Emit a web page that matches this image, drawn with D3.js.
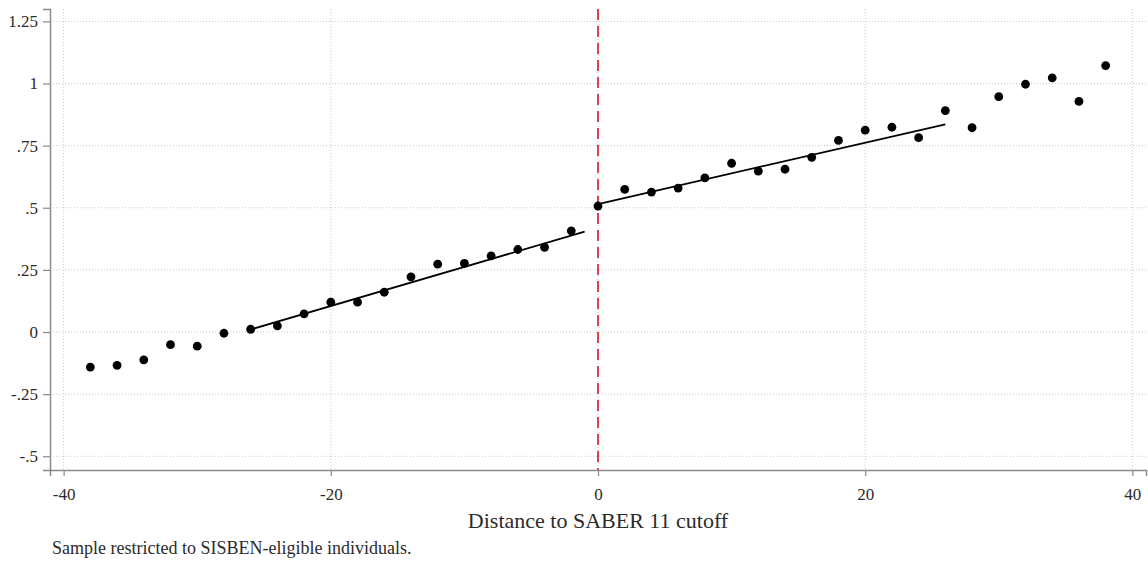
<!DOCTYPE html>
<html>
<head>
<meta charset="utf-8">
<script src="https://cdn.jsdelivr.net/npm/d3@7"></script>
<style>
  html, body { margin: 0; padding: 0; background: #fff; }
  svg { display: block; }
  text { font-family: "Liberation Serif", "DejaVu Serif", serif; fill: #2b2b2b; }
</style>
</head>
<body>
<svg id="chart" width="1148" height="564"></svg>
<script>
// Binned means of the outcome by distance to the cutoff (2-point bins)
const binCenters = [-38, -36, -34, -32, -30, -28, -26, -24, -22, -20, -18, -16, -14, -12, -10, -8, -6, -4, -2,
                    0, 2, 4, 6, 8, 10, 12, 14, 16, 18, 20, 22, 24, 26, 28, 30, 32, 34, 36, 38];
const binMeans = [-0.141, -0.134, -0.112, -0.051, -0.057, -0.005, 0.011, 0.025, 0.073, 0.120, 0.120, 0.160,
                  0.222, 0.273, 0.276, 0.306, 0.332, 0.341, 0.407,
                  0.507, 0.574, 0.563, 0.579, 0.620, 0.679, 0.647, 0.655, 0.703, 0.771, 0.812, 0.824, 0.782,
                  0.891, 0.822, 0.947, 0.997, 1.023, 0.928, 1.072];

// Linear fits on each side of the cutoff (endpoints)
const fitLeftX = [-26, -1];
const fitLeftY = [0.010, 0.404];
const fitRightX = [0, 26];
const fitRightY = [0.515, 0.836];

const cutoff = 0;
const xTicks = [-40, -20, 0, 20, 40];
const xTickLabels = ["-40", "-20", "0", "20", "40"];
const yTicks = [-0.5, -0.25, 0, 0.25, 0.5, 0.75, 1, 1.25];
const yTickLabels = ["-.5", "-.25", "0", ".25", ".5", ".75", "1", "1.25"];
const xTitle = "Distance to SABER 11 cutoff";
const note = "Sample restricted to SISBEN-eligible individuals.";

const svg = d3.select("#chart");
const plot = { left: 50, right: 1146, top: 9, bottom: 470 };

const x = d3.scaleLinear().domain([-41.02, 41.02]).range([plot.left, plot.right]);
const y = d3.scaleLinear().domain([-0.5553, 1.2998]).range([plot.bottom, plot.top]);

// grid
const grid = svg.append("g").attr("class", "grid");
grid.selectAll("line.h").data(yTicks).join("line")
  .attr("x1", plot.left).attr("x2", plot.right)
  .attr("y1", d => y(d)).attr("y2", d => y(d))
  .attr("stroke", "#c8c8c8").attr("stroke-width", 1).attr("stroke-dasharray", "1,2");
grid.selectAll("line.v").data(xTicks).join("line")
  .attr("y1", plot.top).attr("y2", plot.bottom)
  .attr("x1", d => x(d)).attr("x2", d => x(d))
  .attr("stroke", "#c8c8c8").attr("stroke-width", 1).attr("stroke-dasharray", "1,2");

// axes
const yAxis = svg.append("g")
  .attr("transform", `translate(${plot.left},0)`)
  .call(d3.axisLeft(y).tickValues(yTicks).tickFormat((d, i) => yTickLabels[i])
    .tickSizeOuter(0).tickSize(7).tickPadding(5));
const xAxis = svg.append("g")
  .attr("transform", `translate(0,${plot.bottom})`)
  .call(d3.axisBottom(x).tickValues(xTicks).tickFormat((d, i) => xTickLabels[i])
    .tickSizeOuter(0).tickSize(6).tickPadding(12));

[yAxis, xAxis].forEach(a => {
  a.attr("font-family", null).attr("font-size", null);
  a.select(".domain").attr("stroke", "#8a8a8a").attr("stroke-width", 1.5);
  a.selectAll(".tick line").attr("stroke", "#8a8a8a").attr("stroke-width", 1.2);
  a.selectAll(".tick text")
    .style("font-family", '"Liberation Serif", serif')
    .style("font-size", "17px")
    .attr("fill", "#2b2b2b");
});

// cutoff line
svg.append("line")
  .attr("x1", x(cutoff)).attr("x2", x(cutoff))
  .attr("y1", plot.top).attr("y2", plot.bottom)
  .attr("stroke", "#e0404f").attr("stroke-width", 2).attr("stroke-dasharray", "11,6");

// fitted lines
const line = d3.line().x(d => x(d[0])).y(d => y(d[1]));
[[fitLeftX, fitLeftY], [fitRightX, fitRightY]].forEach(([fx, fy]) => {
  svg.append("path")
    .datum(fx.map((v, i) => [v, fy[i]]))
    .attr("d", line)
    .attr("fill", "none").attr("stroke", "#000").attr("stroke-width", 1.8);
});

// binned points
svg.append("g").selectAll("circle")
  .data(binCenters.map((v, i) => [v, binMeans[i]]))
  .join("circle")
  .attr("cx", d => x(d[0])).attr("cy", d => y(d[1]))
  .attr("r", 4.4).attr("fill", "#000");

// titles
svg.append("text")
  .attr("x", (plot.left + plot.right) / 2).attr("y", 528)
  .attr("text-anchor", "middle").style("font-size", "22px")
  .text(xTitle);

svg.append("text")
  .attr("x", 52).attr("y", 554)
  .style("font-size", "18px")
  .text(note);
</script>
</body>
</html>
